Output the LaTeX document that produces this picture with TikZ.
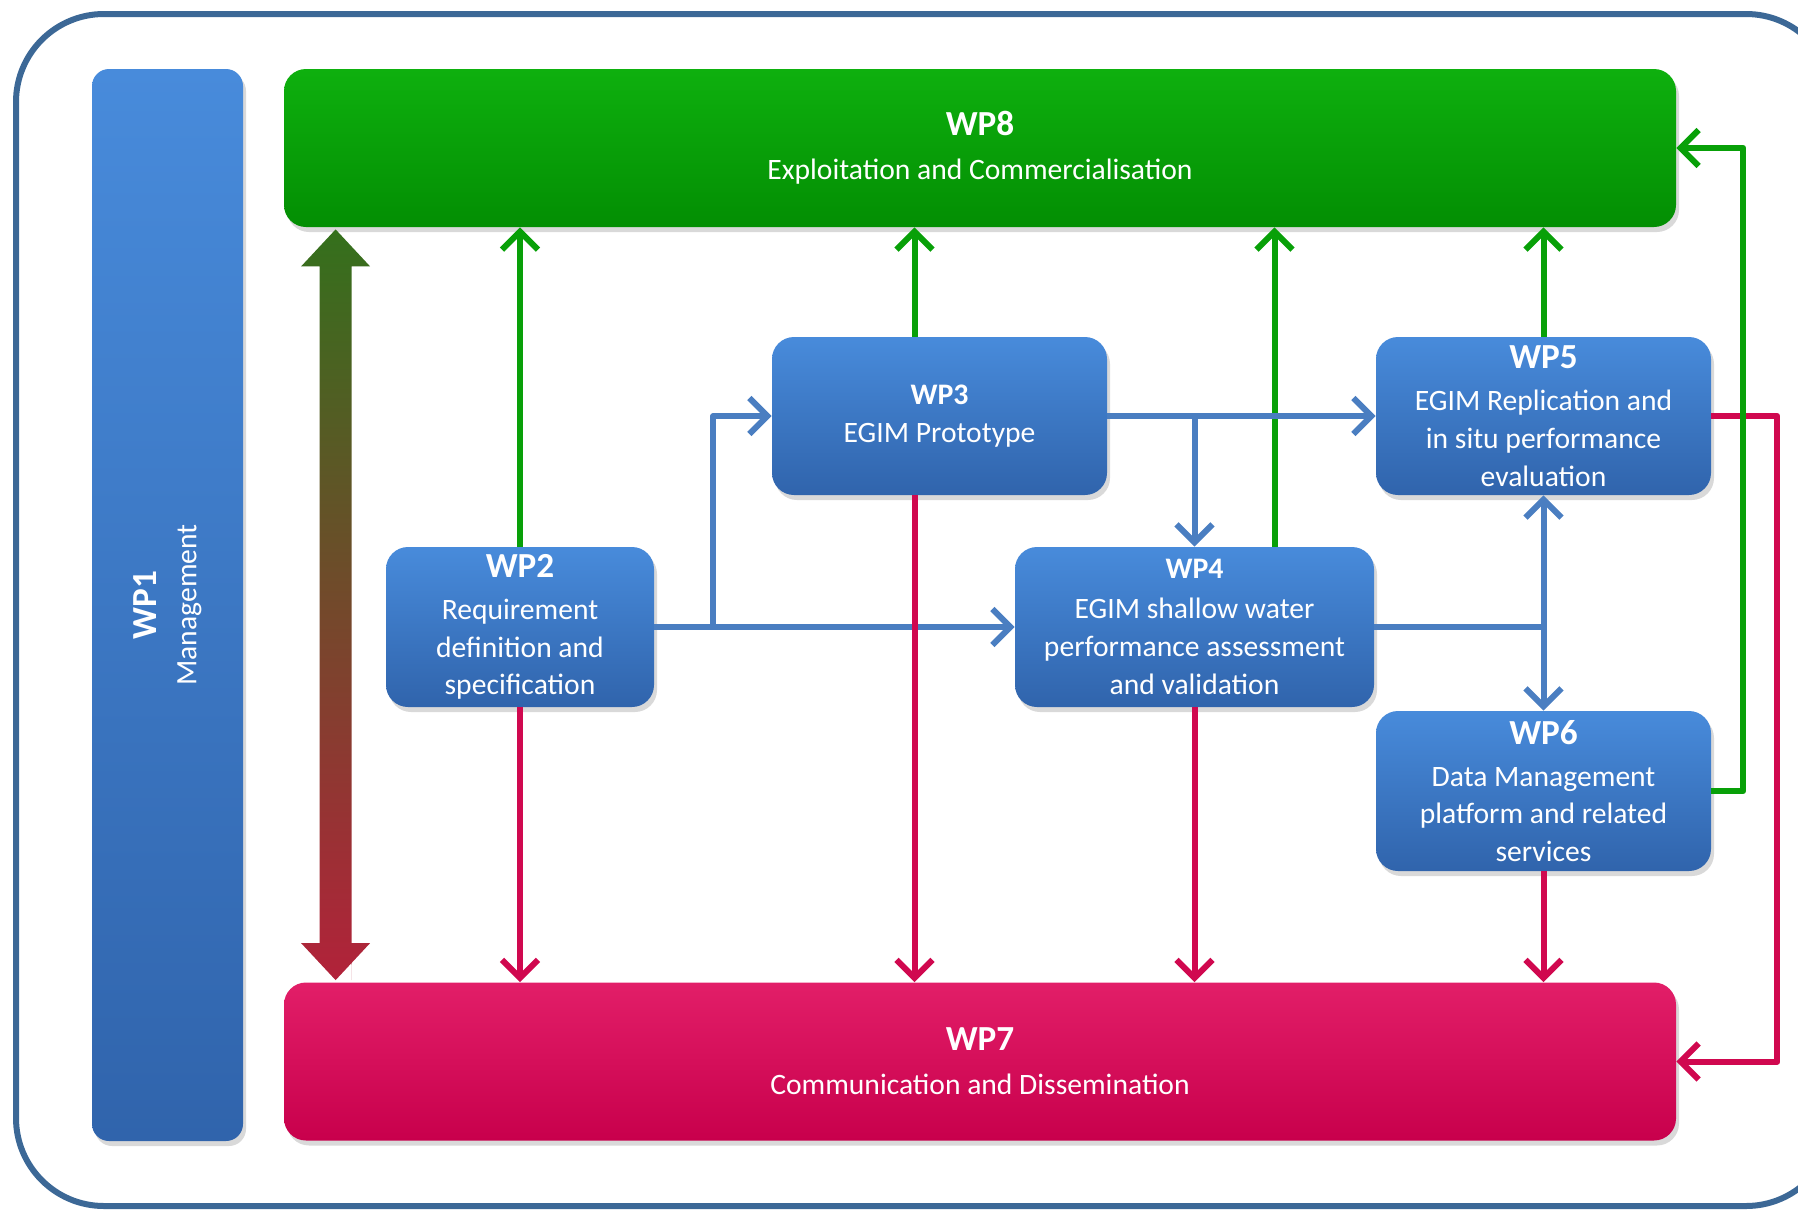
\documentclass[tikz,border=0pt]{standalone}
\usepackage{fontspec}
\setmainfont{Carlito}
\usetikzlibrary{arrows.meta,shadows,calc,positioning}

\definecolor{frameblue}{RGB}{60,104,150}
\definecolor{boxbluetop}{RGB}{72,139,219}
\definecolor{boxbluebot}{RGB}{48,100,172}
\definecolor{boxgreentop}{RGB}{14,176,14}
\definecolor{boxgreenbot}{RGB}{3,142,3}
\definecolor{boxredtop}{RGB}{226,30,104}
\definecolor{boxredbot}{RGB}{200,0,76}
\definecolor{lineblue}{RGB}{74,126,193}
\definecolor{linegreen}{RGB}{8,160,8}
\definecolor{linered}{RGB}{208,8,79}
\definecolor{dblgreen}{RGB}{52,112,28}
\definecolor{dblmid}{RGB}{104,78,44}
\definecolor{dblred}{RGB}{178,34,58}

\newcommand{\wpbody}{\fontsize{14.8}{18.9}\selectfont}
\newcommand{\wphead}{\fontsize{17.6}{20}\selectfont\bfseries}
\newcommand{\wpheadsmall}{\fontsize{14.9}{18}\selectfont\bfseries}

\tikzset{
  wpbox/.style={rounded corners=11pt, text=white, align=center, font=\wpbody,
    inner sep=2pt, drop shadow={opacity=0.3,shadow xshift=1.5pt,shadow yshift=-2.5pt}},
  bluebox/.style={wpbox, top color=boxbluetop, bottom color=boxbluebot},
  greenbox/.style={wpbox, top color=boxgreentop, bottom color=boxgreenbot, minimum width=696pt, minimum height=79pt},
  redbox/.style={wpbox, top color=boxredtop, bottom color=boxredbot, minimum width=696pt, minimum height=79pt},
  bluearr/.style={draw=lineblue, line width=3pt, line join=round, -{Straight Barb[length=9pt,width=18pt]}},
  greenarr/.style={draw=linegreen, line width=3pt, line join=round, -{Straight Barb[length=9pt,width=18pt]}},
  redarr/.style={draw=linered, line width=3pt, line join=round, -{Straight Barb[length=9pt,width=18pt]}},
}

\begin{document}
\begin{tikzpicture}[x=0.5pt,y=-0.5pt]
  \useasboundingbox (0,0) rectangle (1798,1210);
  % outer frame
  \draw[frameblue, line width=3pt, rounded corners=44pt] (16,14) rectangle (1834,1206);

  % work packages
  \node[wpbox, top color=boxbluetop, bottom color=boxbluebot, rotate=90, rounded corners=8.5pt,
    minimum width=536pt, minimum height=75.5pt] (wp1) at (167.5,605)
    {{\wphead WP1}\\[1pt]Management};
  \node[greenbox] (wp8) at (980,148) {{\wphead WP8}\\[3pt]Exploitation and Commercialisation};
  \node[redbox] (wp7) at (980,1061.5) {{\wphead WP7}\\[3pt]Communication and Dissemination};
  \node[bluebox, minimum width=134pt, minimum height=80pt] (wp2) at (520,627)
    {{\wphead WP2}\\[2pt]Requirement\\definition and\\specification};
  \node[bluebox, minimum width=167.5pt, minimum height=79pt] (wp3) at (939.5,416)
    {{\wpheadsmall WP3}\\EGIM Prototype};
  \node[bluebox, minimum width=179.5pt, minimum height=80pt] (wp4) at (1194.5,627)
    {{\wpheadsmall WP4}\\[1pt]EGIM shallow water\\performance assessment\\and validation};
  \node[bluebox, minimum width=167.5pt, minimum height=79pt] (wp5) at (1543.5,416)
    {{\wphead WP5}\\[2pt]EGIM Replication and\\in situ performance\\evaluation};
  \node[bluebox, minimum width=167.5pt, minimum height=80pt] (wp6) at (1543.5,791)
    {{\wphead WP6}\\[2pt]Data Management\\platform and related\\services};

  % offsets for the connectors
  \coordinate (wp3n) at ($(wp3.north)+(-25,0)$);
  \coordinate (wp3s) at ($(wp3.south)+(-25,0)$);
  \coordinate (wp4n) at ($(wp4.north)+(80,0)$);
  \coordinate (b23) at ($(wp2.east)+(59,0)$);
  \coordinate (g68) at ($(wp6.east)+(32,0)$);
  \coordinate (r57) at ($(wp5.east)+(66,0)$);
  \coordinate (dtop) at ($(wp8.south west)+(52,2)$);
  \coordinate (dbot) at ($(wp7.north west)+(52,-2)$);

  % WP1 double arrow between WP8 and WP7
  \shade[top color=dblgreen, middle color=dblmid, bottom color=dblred]
    (dtop) -- ++(34.5,37) -- ++(-18.5,0) -- (dbot -| {$(dtop)+(16,0)$}) -- ++(0,-37)
    -- ++(18.5,0) -- (dbot) -- ++(-34.5,-37) -- ++(18.5,0) -- ($(dtop)+(-16,37)$ |- dbot) -- ++(0,0)
    -- ($(dtop)+(-16,37)$) -- ++(-18.5,0) -- cycle;

  % feedback to WP7
  \draw[redarr] (wp5.east) -- (r57) |- (wp7.east);

  % links to WP8
  \draw[greenarr] (wp2.north) -- (wp2.north |- wp8.south);
  \draw[greenarr] (wp3n) -- (wp3n |- wp8.south);
  \draw[greenarr] (wp4n) -- (wp4n |- wp8.south);
  \draw[greenarr] (wp5.north) -- (wp5.north |- wp8.south);
  \draw[greenarr] (wp6.east) -- (g68) |- (wp8.east);

  % technical flow
  \draw[bluearr] (wp2.east) -- (wp4.west);
  \draw[bluearr] (b23) |- (wp3.west);
  \draw[bluearr] (wp3.east) -- (wp5.west);
  \draw[bluearr] (wp3.east -| wp4.north) -- (wp4.north);
  \draw[bluearr] (wp4.east) -| (wp5.south);
  \draw[bluearr] (wp4.east -| wp6.north) -- (wp6.north);

  % links to WP7
  \draw[redarr] (wp2.south) -- (wp2.south |- wp7.north);
  \draw[redarr] (wp3s) -- (wp3s |- wp7.north);
  \draw[redarr] (wp4.south) -- (wp4.south |- wp7.north);
  \draw[redarr] (wp6.south) -- (wp6.south |- wp7.north);
\end{tikzpicture}
\end{document}
